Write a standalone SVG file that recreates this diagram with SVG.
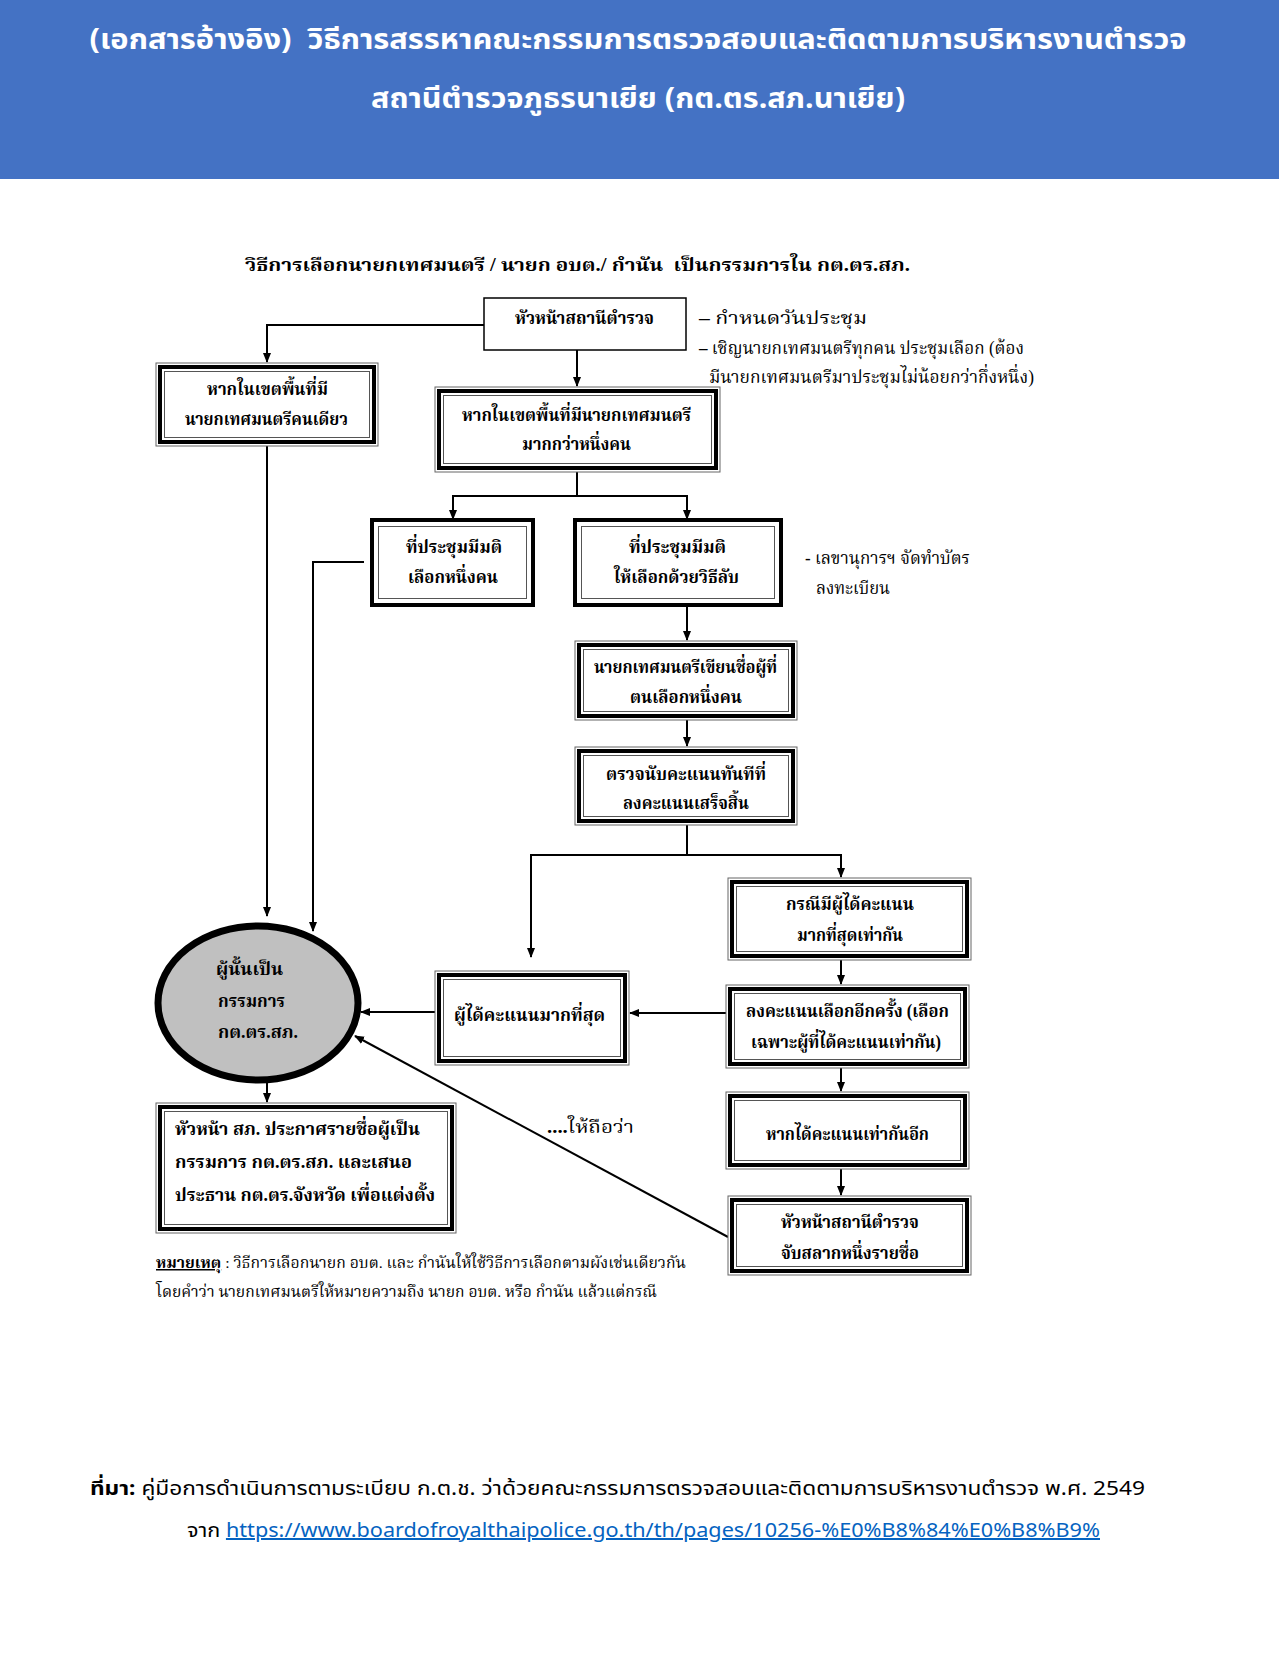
<svg xmlns="http://www.w3.org/2000/svg" width="1279" height="1655" viewBox="0 0 1279 1655">
<style>
.hdr{font-family:"Noto Sans","Noto Sans Thai","DejaVu Sans",sans-serif;font-weight:bold;font-size:28px;fill:#fff;text-anchor:middle}
.t{font-family:"Liberation Serif","Noto Serif Thai","DejaVu Serif",serif;font-weight:bold;font-size:18px;fill:#000}
.n{font-family:"Liberation Serif","Noto Serif Thai","DejaVu Serif",serif;font-size:18px;fill:#000}
.sm{font-family:"Liberation Serif","Noto Serif Thai","DejaVu Serif",serif;font-size:15px;fill:#000}
.ft{font-family:"Noto Sans","Noto Sans Thai","DejaVu Sans",sans-serif;font-size:20px;fill:#000}
.o{fill:#fff;stroke:#666;stroke-width:1}
.k{fill:none;stroke:#000;stroke-width:4}
.i{fill:none;stroke:#555;stroke-width:1}
.c{fill:none;stroke:#000;stroke-width:2}
</style>
<defs>
<marker id="ah" markerWidth="10" markerHeight="10" refX="9" refY="5" orient="auto" markerUnits="userSpaceOnUse">
<path d="M0,1 L10,5 L0,9 Z" fill="#000"/>
</marker>
</defs>
<rect x="0" y="0" width="1279" height="1655" fill="#fff"/>
<rect x="0" y="0" width="1279" height="179" fill="#4472C4"/>
<text class="hdr" x="638" y="49" textLength="1097" lengthAdjust="spacingAndGlyphs">(เอกสารอ้างอิง)&#160; วิธีการสรรหาคณะกรรมการตรวจสอบและติดตามการบริหารงานตำรวจ</text>
<text class="hdr" x="638" y="108" textLength="534" lengthAdjust="spacingAndGlyphs">สถานีตำรวจภูธรนาเยีย (กต.ตร.สภ.นาเยีย)</text>

<text class="t" x="245" y="271" font-size="19" textLength="665" lengthAdjust="spacingAndGlyphs">วิธีการเลือกนายกเทศมนตรี / นายก อบต./ กำนัน&#160; เป็นกรรมการใน กต.ตร.สภ.</text>

<g id="connectors">
<polyline class="c" points="484,325 267,325 267,362" marker-end="url(#ah)"/>
<line class="c" x1="577" y1="350" x2="577" y2="386" marker-end="url(#ah)"/>
<line class="c" x1="577" y1="472" x2="577" y2="496"/>
<polyline class="c" points="453,519 453,496 687,496 687,519" />
<line class="c" x1="453" y1="500" x2="453" y2="519" marker-end="url(#ah)"/>
<line class="c" x1="687" y1="500" x2="687" y2="519" marker-end="url(#ah)"/>
<line class="c" x1="687" y1="605" x2="687" y2="640" marker-end="url(#ah)"/>
<line class="c" x1="687" y1="720" x2="687" y2="746" marker-end="url(#ah)"/>
<line class="c" x1="687" y1="825" x2="687" y2="855"/>
<polyline class="c" points="531,957 531,855 841,855 841,877" marker-end="url(#ah)"/>
<line class="c" x1="531" y1="900" x2="531" y2="957" marker-end="url(#ah)"/>
<line class="c" x1="841" y1="960" x2="841" y2="984" marker-end="url(#ah)"/>
<line class="c" x1="726" y1="1013" x2="630" y2="1013" marker-end="url(#ah)"/>
<line class="c" x1="435" y1="1012" x2="361" y2="1012" marker-end="url(#ah)"/>
<line class="c" x1="267" y1="446" x2="267" y2="916" marker-end="url(#ah)"/>
<polyline class="c" points="364,562 313,562 313,931" marker-end="url(#ah)"/>
<line class="c" x1="267" y1="1083" x2="267" y2="1102" marker-end="url(#ah)"/>
<line class="c" x1="841" y1="1068" x2="841" y2="1091" marker-end="url(#ah)"/>
<line class="c" x1="841" y1="1169" x2="841" y2="1195" marker-end="url(#ah)"/>
<line class="c" x1="728" y1="1237" x2="355" y2="1036" marker-end="url(#ah)"/>
<text class="n" x="547" y="1133" textLength="87" lengthAdjust="spacingAndGlyphs"><tspan font-weight="bold">....</tspan>ให้ถือว่า</text>
</g>

<g id="head">
<rect x="484" y="298" width="202" height="52" fill="#fff" stroke="#000" stroke-width="1.5"/>
<text class="t" x="515" y="324" textLength="139" lengthAdjust="spacingAndGlyphs">หัวหน้าสถานีตำรวจ</text>
</g>
<g id="head-notes">
<text class="n" x="699" y="324" textLength="168" lengthAdjust="spacingAndGlyphs"><tspan font-weight="bold">–</tspan> กำหนดวันประชุม</text>
<text class="n" x="699" y="354" textLength="325" lengthAdjust="spacingAndGlyphs"><tspan font-weight="bold">–</tspan> เชิญนายกเทศมนตรีทุกคน ประชุมเลือก (ต้อง</text>
<text class="n" x="709" y="383" textLength="325" lengthAdjust="spacingAndGlyphs">มีนายกเทศมนตรีมาประชุมไม่น้อยกว่ากึ่งหนึ่ง)</text>
</g>

<g id="one-mayor">
<rect class="o" x="156" y="363" width="222" height="83"/>
<rect class="k" x="160" y="367" width="214" height="75"/>
<rect class="i" x="164.5" y="371.5" width="205" height="66"/>
<text class="t" x="207" y="395" textLength="121" lengthAdjust="spacingAndGlyphs">หากในเขตพื้นที่มี</text>
<text class="t" x="185" y="425" textLength="163" lengthAdjust="spacingAndGlyphs">นายกเทศมนตรีคนเดียว</text>
</g>

<g id="many-mayors">
<rect class="o" x="435" y="387" width="285" height="85"/>
<rect class="k" x="439" y="391" width="277" height="77"/>
<rect class="i" x="443.5" y="395.5" width="268" height="68"/>
<text class="t" x="462" y="421" textLength="229" lengthAdjust="spacingAndGlyphs">หากในเขตพื้นที่มีนายกเทศมนตรี</text>
<text class="t" x="522" y="450" textLength="109" lengthAdjust="spacingAndGlyphs">มากกว่าหนึ่งคน</text>
</g>

<g id="select-one">
<rect x="372" y="520" width="161" height="85" fill="#fff" stroke="#000" stroke-width="4"/>
<rect class="i" x="378.5" y="526.5" width="148" height="72"/>
<text class="t" x="406" y="553" textLength="96" lengthAdjust="spacingAndGlyphs">ที่ประชุมมีมติ</text>
<text class="t" x="408" y="583" textLength="90" lengthAdjust="spacingAndGlyphs">เลือกหนึ่งคน</text>
</g>

<g id="secret">
<rect x="575" y="520" width="206" height="85" fill="#fff" stroke="#000" stroke-width="4"/>
<rect class="i" x="581.5" y="526.5" width="193" height="72"/>
<text class="t" x="629" y="553" textLength="97" lengthAdjust="spacingAndGlyphs">ที่ประชุมมีมติ</text>
<text class="t" x="614" y="583" textLength="125" lengthAdjust="spacingAndGlyphs">ให้เลือกด้วยวิธีลับ</text>
</g>
<g id="secret-note">
<text class="n" x="805" y="564" textLength="165" lengthAdjust="spacingAndGlyphs">- เลขานุการฯ จัดทำบัตร</text>
<text class="n" x="816" y="594" textLength="74" lengthAdjust="spacingAndGlyphs">ลงทะเบียน</text>
</g>

<g id="write">
<rect class="o" x="575" y="641" width="222" height="79"/>
<rect class="k" x="579" y="645" width="214" height="71"/>
<rect class="i" x="583.5" y="649.5" width="205" height="62"/>
<text class="t" x="594" y="673" textLength="183" lengthAdjust="spacingAndGlyphs">นายกเทศมนตรีเขียนชื่อผู้ที่</text>
<text class="t" x="630" y="703" textLength="112" lengthAdjust="spacingAndGlyphs">ตนเลือกหนึ่งคน</text>
</g>

<g id="count">
<rect class="o" x="575" y="747" width="222" height="78"/>
<rect class="k" x="579" y="751" width="214" height="70"/>
<rect class="i" x="583.5" y="755.5" width="205" height="61"/>
<text class="t" x="606" y="780" textLength="160" lengthAdjust="spacingAndGlyphs">ตรวจนับคะแนนทันทีที่</text>
<text class="t" x="623" y="809" textLength="126" lengthAdjust="spacingAndGlyphs">ลงคะแนนเสร็จสิ้น</text>
</g>

<g id="tie">
<rect class="o" x="728" y="878" width="243" height="82"/>
<rect class="k" x="732" y="882" width="235" height="74"/>
<rect class="i" x="736.5" y="886.5" width="226" height="65"/>
<text class="t" x="786" y="910" textLength="128" lengthAdjust="spacingAndGlyphs">กรณีมีผู้ได้คะแนน</text>
<text class="t" x="797" y="941" textLength="106" lengthAdjust="spacingAndGlyphs">มากที่สุดเท่ากัน</text>
</g>

<g id="revote">
<rect class="o" x="726" y="985" width="243" height="83"/>
<rect class="k" x="730" y="989" width="235" height="75"/>
<rect class="i" x="734.5" y="993.5" width="226" height="66"/>
<text class="t" x="746" y="1017" textLength="203" lengthAdjust="spacingAndGlyphs">ลงคะแนนเลือกอีกครั้ง (เลือก</text>
<text class="t" x="751" y="1048" textLength="190" lengthAdjust="spacingAndGlyphs">เฉพาะผู้ที่ได้คะแนนเท่ากัน)</text>
</g>

<g id="max">
<rect class="o" x="435" y="971" width="194" height="94"/>
<rect class="k" x="439" y="975" width="186" height="86"/>
<rect class="i" x="443.5" y="979.5" width="177" height="77"/>
<text class="t" x="454" y="1021" textLength="151" lengthAdjust="spacingAndGlyphs">ผู้ได้คะแนนมากที่สุด</text>
</g>

<g id="committee">
<ellipse cx="258" cy="1003" rx="100" ry="77" fill="#C0C0C0" stroke="#000" stroke-width="7"/>
<text class="t" x="216" y="975" textLength="67" lengthAdjust="spacingAndGlyphs">ผู้นั้นเป็น</text>
<text class="t" x="218" y="1007" textLength="67" lengthAdjust="spacingAndGlyphs">กรรมการ</text>
<text class="t" x="218" y="1038" textLength="80" lengthAdjust="spacingAndGlyphs">กต.ตร.สภ.</text>
</g>

<g id="announce">
<rect class="o" x="156" y="1103" width="300" height="130"/>
<rect class="k" x="160" y="1107" width="292" height="122"/>
<rect class="i" x="164.5" y="1111.5" width="283" height="113"/>
<text class="t" x="175" y="1135" textLength="245" lengthAdjust="spacingAndGlyphs">หัวหน้า สภ. ประกาศรายชื่อผู้เป็น</text>
<text class="t" x="175" y="1168" textLength="237" lengthAdjust="spacingAndGlyphs">กรรมการ กต.ตร.สภ. และเสนอ</text>
<text class="t" x="175" y="1201" textLength="260" lengthAdjust="spacingAndGlyphs">ประธาน กต.ตร.จังหวัด เพื่อแต่งตั้ง</text>
</g>

<g id="tie-again">
<rect class="o" x="726" y="1092" width="243" height="77"/>
<rect class="k" x="730" y="1096" width="235" height="69"/>
<rect class="i" x="734.5" y="1100.5" width="226" height="60"/>
<text class="t" x="766" y="1140" textLength="163" lengthAdjust="spacingAndGlyphs">หากได้คะแนนเท่ากันอีก</text>
</g>

<g id="draw">
<rect class="o" x="728" y="1196" width="243" height="79"/>
<rect class="k" x="732" y="1200" width="235" height="71"/>
<rect class="i" x="736.5" y="1204.5" width="226" height="62"/>
<text class="t" x="781" y="1228" textLength="138" lengthAdjust="spacingAndGlyphs">หัวหน้าสถานีตำรวจ</text>
<text class="t" x="781" y="1259" textLength="138" lengthAdjust="spacingAndGlyphs">จับสลากหนึ่งรายชื่อ</text>
</g>

<g id="remark">
<text class="sm" x="156" y="1268" textLength="530" lengthAdjust="spacingAndGlyphs"><tspan font-weight="bold" text-decoration="underline">หมายเหตุ</tspan> : วิธีการเลือกนายก อบต. และ กำนันให้ใช้วิธีการเลือกตามผังเช่นเดียวกัน</text>
<text class="sm" x="156" y="1297" textLength="501" lengthAdjust="spacingAndGlyphs">โดยคำว่า นายกเทศมนตรีให้หมายความถึง นายก อบต. หรือ กำนัน แล้วแต่กรณี</text>
</g>

<g id="source">
<text class="ft" x="90" y="1495" textLength="1055" lengthAdjust="spacingAndGlyphs"><tspan font-weight="bold">ที่มา:</tspan> คู่มือการดำเนินการตามระเบียบ ก.ต.ช. ว่าด้วยคณะกรรมการตรวจสอบและติดตามการบริหารงานตำรวจ พ.ศ. 2549</text>
<text class="ft" x="187" y="1537" textLength="913" lengthAdjust="spacingAndGlyphs">จาก <tspan fill="#0563C1" text-decoration="underline">https://www.boardofroyalthaipolice.go.th/th/pages/10256-%E0%B8%84%E0%B8%B9%</tspan></text>
</g>
</svg>
